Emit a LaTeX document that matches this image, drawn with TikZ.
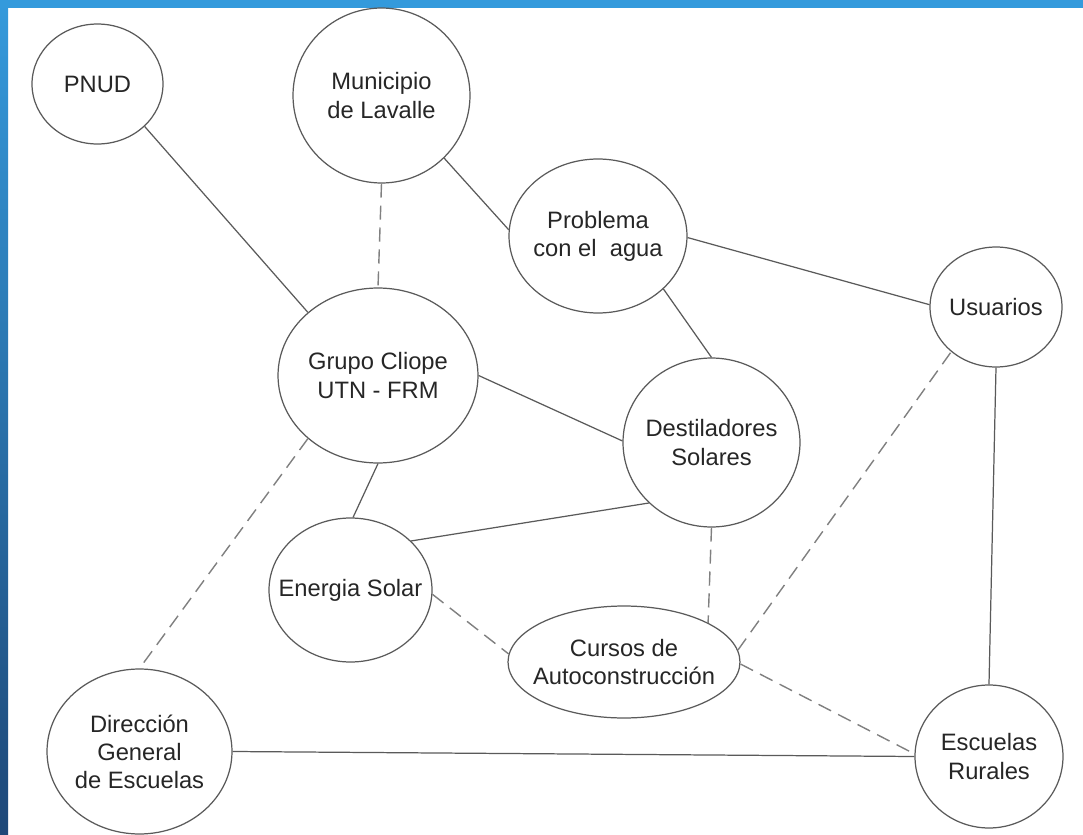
\documentclass[tikz,border=0pt]{standalone}
\usepackage{fontspec}
\setmainfont{Liberation Sans}
\usetikzlibrary{shapes.geometric}

\definecolor{bandtop}{RGB}{52,154,220}
\definecolor{bandbot}{RGB}{30,72,120}
\definecolor{linea}{RGB}{90,90,90}

\tikzset{
  burbuja/.style={ellipse, draw=linea, line width=0.7pt, fill=white, inner sep=0pt},
  rotulo/.style={align=center, font=\fontsize{13.5}{16}\selectfont, text=black!85},
  enlace/.style={draw=linea, line width=0.7pt},
  punteado/.style={draw=black!50, line width=0.8pt, dash pattern=on 8pt off 4.5pt},
}

\begin{document}
\begin{tikzpicture}[x=0.02cm, y=-0.02cm]
	\useasboundingbox (0,0) rectangle (1083,835);

		% Fondo y marco azul
		\fill[white] (0,0) rectangle (1083,835);
		\shade[top color=bandtop, bottom color=bandbot] (0,0) rectangle (8,835);
		\fill[bandtop] (0,0) rectangle (1083,8);

		% Actores
		\node[burbuja, minimum width=2.62cm, minimum height=2.4cm,
			label={[rotulo]center:PNUD}] (pnud) at (97.5,84) {};
		\node[burbuja, minimum width=3.54cm, minimum height=3.5cm,
			label={[rotulo]center:{Municipio\\de Lavalle}}] (mun) at (381.5,95.5) {};
		\node[burbuja, minimum width=4cm, minimum height=3.5cm,
			label={[rotulo]center:{Grupo Cliope\\UTN - FRM}}] (grp) at (378,375.5) {};
		\node[burbuja, minimum width=3.56cm, minimum height=3.08cm,
			label={[rotulo]center:{Problema\\con el~ agua}}] (prob) at (598,236) {};
		\node[burbuja, minimum width=2.64cm, minimum height=2.4cm,
			label={[rotulo]center:Usuarios}] (usu) at (996,307) {};
		\node[burbuja, minimum width=3.54cm, minimum height=3.38cm,
			label={[rotulo]center:{Destiladores\\Solares}}] (des) at (711.5,442.5) {};
		\node[burbuja, minimum width=3.26cm, minimum height=2.88cm,
			label={[rotulo]center:Energia Solar}] (ene) at (350.5,590) {};
		\node[burbuja, minimum width=4.64cm, minimum height=2.24cm,
			label={[rotulo]center:{Cursos de\\Autoconstrucción}}] (cur) at (624,662) {};
		\node[burbuja, minimum width=3.7cm, minimum height=3.3cm,
			label={[rotulo]center:{Dirección\\General\\de Escuelas}}] (dir) at (139.5,751.5) {};
		\node[burbuja, minimum width=2.96cm, minimum height=2.86cm,
			label={[rotulo]center:{Escuelas\\Rurales}}] (esc) at (989,756.5) {};

		% Relaciones directas
		\draw[enlace] (pnud.-42) -- (grp.138);
		\draw[enlace] (mun.-45) -- (prob.176);
		\draw[enlace] (prob.-1) -- (usu.178);
		\draw[enlace] (prob.-39) -- (des.north);
		\draw[enlace] (grp.east) -- (des.179);
		\draw[enlace] (grp.south) -- (ene.88);
		\draw[enlace] (ene.39) -- (des.224);
		\draw[enlace] (usu.south) -- (esc.north);
		\draw[enlace] (dir.east) -- (esc.west);

		% Relaciones indirectas
		\draw[punteado] (mun.south) -- (grp.north);
		\draw[punteado] (grp.222) -- (dir.north);
		\draw[punteado] (ene.-3) -- (cur.176);
		\draw[punteado] (des.south) -- (cur.25);
		\draw[punteado] (cur.6) -- (usu.225);
		\draw[punteado] (cur.-1) -- (esc.178);

\end{tikzpicture}
\end{document}
